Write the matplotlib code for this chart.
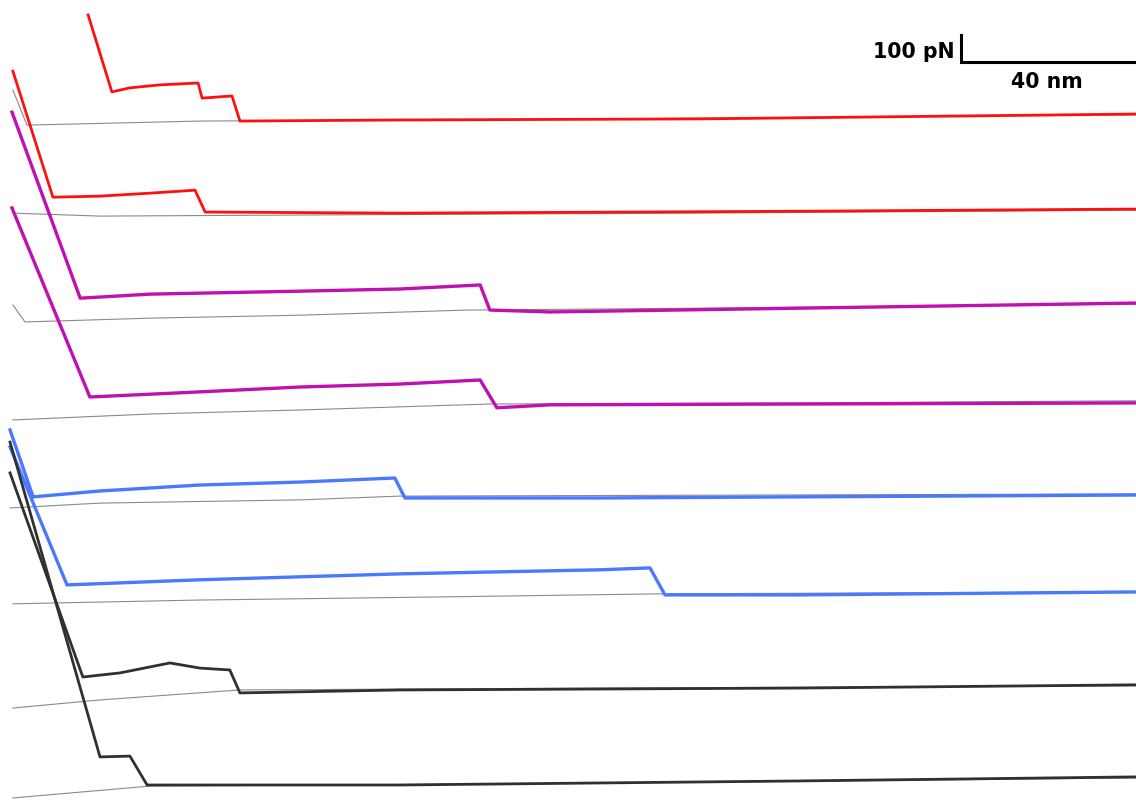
import numpy as np
import matplotlib.pyplot as plt

plt.rcParams['font.family'] = ['DejaVu Sans']

# %% data: extension (nm) and force (pN) keypoints
# each trace: approach (grey) + retract (colour), force relative to its own baseline
offsets = [2526, 2181, 1822, 1467, 1126, 767, 415, 63]
colors = ['#ff1010', '#ff1010', '#c010b0', '#c010b0', '#4a78ff', '#4a78ff', '#303030', '#303030']
widths = [2.0, 2.0, 2.4, 2.4, 2.4, 2.4, 2.0, 2.0]

ret_x = [
    [17.3, 22.7, 26.8, 33.6, 42.3, 43.2, 50.0, 51.8, 88.2, 156.4, 255.5],
    [0.2, 9.3, 20.0, 31.4, 41.6, 43.9, 88.2, 179.0, 255.5],
    [0.0, 15.5, 31.4, 65.5, 88.2, 106.4, 108.6, 122.3, 179.0, 255.5],
    [0.0, 17.7, 42.7, 65.5, 88.2, 106.4, 110.2, 122.3, 179.0, 255.5],
    [-0.45, 4.8, 20.0, 42.7, 65.5, 87.0, 89.3, 133.6, 255.5],
    [-0.45, 12.5, 42.7, 88.2, 133.6, 145.0, 148.4, 179.0, 255.5],
    [-0.45, 16.1, 24.5, 35.9, 42.7, 49.5, 51.8, 88.2, 179.0, 255.5],
    [-0.45, 20.0, 26.8, 30.7, 88.2, 179.0, 255.5],
]
ret_f = [
    [389, 104, 119, 130, 137, 81, 89, -4, 0, 4, 22],
    [526, 59, 63, 74, 85, 4, 0, 7, 15],
    [733, 44, 59, 70, 78, 93, 0, -7, 7, 26],
    [733, 33, 52, 70, 81, 96, -7, 4, 7, 11],
    [252, 4, 26, 48, 59, 74, 0, 0, 11],
    [548, 37, 56, 78, 93, 100, 0, 0, 11],
    [804, 48, 63, 100, 81, 74, -11, 0, 7, 19],
    [1270, 104, 107, 0, 0, 15, 30],
]
app_x = [
    [0.2, 3.4, 42.7, 133.6, 255.5],
    [0.2, 20.0, 65.5, 156.0, 255.5],
    [0.2, 2.95, 31.4, 65.5, 103.4, 156.4, 255.5],
    [0.2, 31.4, 65.5, 108.6, 179.0, 255.5],
    [-0.45, 20.0, 65.5, 88.2, 255.5],
    [0.2, 42.7, 99.5, 147.3, 255.5],
    [0.2, 20.0, 51.8, 133.6, 255.5],
    [0.2, 31.4, 110.9, 255.5],
]
app_f = [
    [111, -19, -4, 4, 19],
    [0, -11, -7, 0, 11],
    [19, -44, -30, -19, 0, 7, 22],
    [-52, -30, -15, 7, 11, 19],
    [-37, -19, -7, 7, 15],
    [-33, -19, -7, 4, 11],
    [-67, -37, 0, 7, 15],
    [-48, -4, 4, 26],
]

# scale bar
bar_x, bar_y = 215.7, 2741
bar_nm, bar_pn = 40, 100

# %% plot
fig = plt.figure(figsize=(11.36, 8.02), dpi=100)
ax = fig.add_axes([0, 0, 1, 1])

for i in range(len(offsets)):
    ax.plot(app_x[i], np.array(app_f[i]) + offsets[i], c='#8a8a8a', lw=0.8, zorder=1)
    ax.plot(ret_x[i], np.array(ret_f[i]) + offsets[i], c=colors[i], lw=widths[i],
            solid_joinstyle='round', zorder=2)

ax.plot([bar_x + bar_nm, bar_x, bar_x], [bar_y, bar_y, bar_y + bar_pn], c='black', lw=2.2,
        solid_joinstyle='miter', zorder=3)
ax.text(bar_x - 1.4, bar_y + 15, '100 pN', ha='right', va='baseline',
        fontsize=14.8, fontweight='bold')
ax.text(bar_x + bar_nm / 2 - 0.5, bar_y - 97, '40 nm', ha='center', va='baseline',
        fontsize=14.8, fontweight='bold')

ax.set_xlim(-12 / 4.4, 1124 / 4.4)
ax.set_ylim(0, 802 / 0.27)
ax.axis('off')

fig.savefig('out.png', dpi=100)
